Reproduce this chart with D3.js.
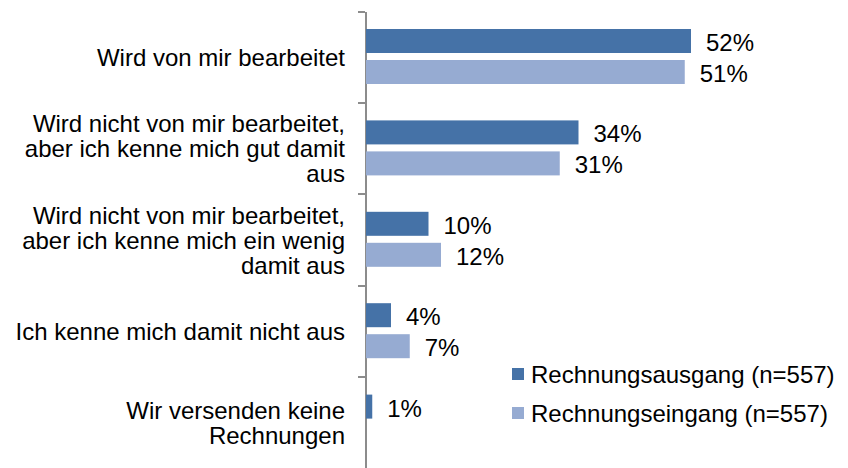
<!DOCTYPE html>
<meta charset="utf-8">
<head>
    <style>
        body { margin: 0; background: #fff; }
        svg { font-family: Arial, "Liberation Sans", sans-serif; }
        .label { font-size: 24px; fill: #000; }
        .axis path, .axis line { stroke: #8c8c8c; stroke-width: 2px; shape-rendering: crispEdges; }
    </style>
</head>
<body>
<script src="https://d3js.org/d3.v7.min.js"></script>
<script>
    // chart data
    var categories = [
        ["Wird von mir bearbeitet"],
        ["Wird nicht von mir bearbeitet,", "aber ich kenne mich gut damit", "aus"],
        ["Wird nicht von mir bearbeitet,", "aber ich kenne mich ein wenig", "damit aus"],
        ["Ich kenne mich damit nicht aus"],
        ["Wir versenden keine", "Rechnungen"]
    ];
    var seriesNames = ["Rechnungsausgang (n=557)", "Rechnungseingang (n=557)"];
    var ausgang = [52, 34, 10, 4, 1];
    var eingang = [51, 31, 12, 7, null];
    var colors = ["#4572a7", "#96abd2"];

    var width = 848, height = 468;
    var svg = d3.select("body").append("svg")
        .attr("width", width)
        .attr("height", height);

    var plotTop = 11, plotBottom = 468, axisX = 365;

    // category bands
    var idx = d3.range(categories.length);
    var y = d3.scaleBand().domain(idx).range([plotTop, plotBottom]);
    var yInner = d3.scaleBand().domain([0, 1]).range([18, 73]).paddingInner(7 / 31);
    var x = d3.scaleLinear().domain([0, 100]).range([axisX + 1, axisX + 1 + 625]);

    // axis with ticks at band edges
    var edges = d3.scaleLinear().domain([0, categories.length]).range([plotTop, plotBottom]);
    svg.append("g")
        .attr("class", "axis")
        .attr("transform", "translate(" + axisX + ",0)")
        .call(d3.axisLeft(edges).tickValues(d3.range(categories.length + 1))
            .tickSize(7).tickSizeOuter(0).tickFormat(""));

    var rows = [];
    idx.forEach(function (i) {
        rows.push({cat: i, s: 0, v: ausgang[i]});
        if (eingang[i] != null) rows.push({cat: i, s: 1, v: eingang[i]});
    });

    svg.selectAll(".bar")
        .data(rows)
        .enter().append("rect")
        .attr("class", "bar")
        .attr("x", x(0))
        .attr("y", function (d) { return y(d.cat) + yInner(d.s); })
        .attr("width", function (d) { return x(d.v) - x(0); })
        .attr("height", yInner.bandwidth())
        .attr("fill", function (d) { return colors[d.s]; });

    svg.selectAll(".val")
        .data(rows)
        .enter().append("text")
        .attr("class", "label")
        .attr("x", function (d) { return x(d.v) + 15; })
        .attr("y", function (d) { return y(d.cat) + yInner(d.s) + yInner.bandwidth() / 2 + 10; })
        .text(function (d) { return d.v + "%"; });

    // category labels
    var lineH = 25;
    var cl = svg.selectAll(".cat")
        .data(idx)
        .enter().append("text")
        .attr("class", "label")
        .attr("text-anchor", "end");
    cl.each(function (i) {
        var lines = categories[i];
        var cy = y(i) + y.bandwidth() / 2;
        var first = cy - (lines.length - 1) * lineH / 2 + 9;
        d3.select(this).selectAll("tspan")
            .data(lines)
            .enter().append("tspan")
            .attr("x", 345)
            .attr("y", function (d, j) { return first + j * lineH; })
            .text(function (d) { return d; });
    });

    // legend
    var leg = svg.selectAll(".leg")
        .data(seriesNames)
        .enter().append("g")
        .attr("transform", function (d, i) { return "translate(512," + (368 + i * 39) + ")"; });
    leg.append("rect")
        .attr("width", 12).attr("height", 12)
        .attr("fill", function (d, i) { return colors[i]; });
    leg.append("text")
        .attr("class", "label")
        .attr("x", 19)
        .attr("y", 15)
        .text(function (d) { return d; });
</script>
</body>
